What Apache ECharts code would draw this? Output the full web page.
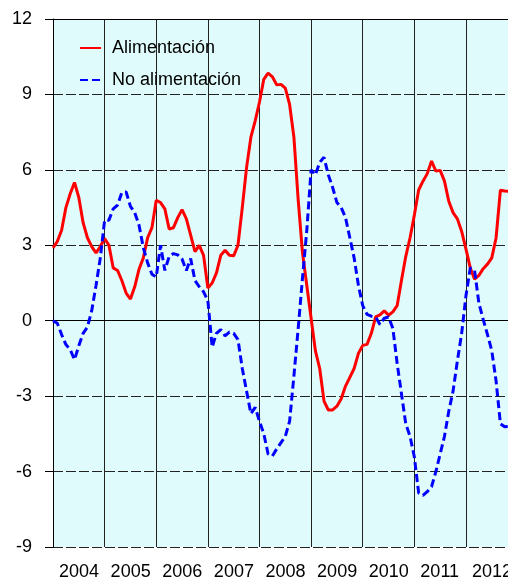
<!DOCTYPE html>
<html>
<head>
<meta charset="utf-8">
<script src="https://cdn.jsdelivr.net/npm/echarts@6/dist/echarts.min.js"></script>
<style>
html, body { margin: 0; padding: 0; background: #fff; }
#chart { width: 508px; height: 581px; }
</style>
</head>
<body>
<div id="chart"></div>
<script>
// datos mensuales desde enero 2004
var startYear = 2004;
var endYear = 2012.814; // el gráfico original está cortado en el borde derecho

var alimentacion = [
	2.9, 3.15, 3.6, 4.5, 5.05, 5.5, 4.9, 3.9, 3.3, 2.95, 2.7, 2.95,
	3.27, 3.0, 2.1, 2.0, 1.6, 1.1, 0.86, 1.35, 2.05, 2.5, 3.3, 3.7,
	4.79, 4.7, 4.45, 3.65, 3.7, 4.1, 4.42, 4.05, 3.4, 2.75, 3.0, 2.6,
	1.3, 1.5, 1.9, 2.6, 2.8, 2.6, 2.58, 3.0, 4.5, 6.1, 7.3, 7.95,
	8.7, 9.6, 9.85, 9.7, 9.38, 9.4, 9.25, 8.6, 7.3, 4.8, 2.7, 1.4,
	0.1, -1.2, -1.9, -3.2, -3.55, -3.55, -3.4, -3.1, -2.6, -2.25, -1.9, -1.3,
	-0.98, -0.94, -0.5, 0.15, 0.23, 0.39, 0.22, 0.35, 0.6, 1.6, 2.55, 3.3,
	4.2, 5.2, 5.55, 5.85, 6.35, 5.95, 5.98, 5.55, 4.75, 4.3, 4.05, 3.55,
	2.85, 2.1, 1.65, 1.8, 2.07, 2.25, 2.5, 3.3, 5.19, 5.16, 5.15
];

var noAlimentacion = [
	0.0, -0.1, -0.55, -0.95, -1.15, -1.55, -1.0, -0.5, -0.25, 0.4, 1.4, 2.5,
	4.0, 4.0, 4.45, 4.6, 5.1, 5.12, 4.55, 4.3, 3.8, 2.9, 2.3, 1.85,
	1.74, 3.0, 2.0, 2.55, 2.67, 2.62, 2.45, 2.0, 2.47, 1.6, 1.35, 1.15,
	0.8, -1.05, -0.5, -0.35, -0.6, -0.45, -0.5, -0.75, -1.9, -2.8, -3.7, -3.45,
	-4.0, -4.5, -5.3, -5.38, -5.1, -4.85, -4.6, -4.0, -2.2, -0.3, 1.7, 3.6,
	6.0, 5.8, 6.3, 6.5, 5.8, 5.3, 4.7, 4.5, 4.1, 3.3, 2.5, 1.4,
	0.6, 0.25, 0.18, 0.15, -0.15, 0.1, 0.15, -0.3, -1.7, -2.9, -4.1, -4.6,
	-5.42, -6.85, -6.95, -6.8, -6.6, -6.0, -5.3, -4.6, -3.6, -2.8, -1.6, -0.5,
	1.0, 2.1, 2.0, 0.7, 0.05, -0.55, -1.2, -2.4, -4.1, -4.22, -4.2
];

function toPoints(values){
	var pts = [];
	for (var i = 0; i < values.length; i++) {
		pts.push([startYear + i / 12, values[i]]);
	}
	return pts;
}

var fontFam = 'Liberation Sans, Arial, sans-serif';
var myChart = echarts.init(document.getElementById('chart'));

var option = {
	animation: false,
	backgroundColor: '#ffffff',
	grid: {
		left: 53,
		top: 19,
		bottom: 34,
		right: 0,
		outerBoundsMode: 'none',
		containLabel: false,
		show: true,
		backgroundColor: '#e0fbfb',
		borderWidth: 0
	},
	legend: {
		orient: 'vertical',
		left: 79,
		top: 39,
		padding: 0,
		itemWidth: 21,
		itemHeight: 12,
		itemGap: 14,
		itemStyle: { opacity: 0 },
		textStyle: { fontFamily: fontFam, fontSize: 18, color: '#000', padding: [0, 0, 0, 6] },
		data: ['Alimentación', 'No alimentación']
	},
	xAxis: [
		{
			type: 'value',
			min: startYear,
			max: endYear,
			interval: 1,
			axisLabel: {
				fontFamily: fontFam, fontSize: 18, color: '#000', margin: 16,
				align: 'left', padding: [0, 0, 0, 6],
				formatter: function (v) {
					return Math.abs(v - Math.round(v)) < 1e-6 ? String(Math.round(v)) : '';
				}
			},
			axisTick: { show: false },
			axisLine: { show: true, lineStyle: { color: '#000', width: 1 } },
			splitLine: { show: true, showMinLine: false, showMaxLine: false, lineStyle: { color: '#222', width: 1 } }
		},
		{
			// solo la línea superior del marco
			type: 'value',
			position: 'top',
			min: startYear,
			max: endYear,
			axisLabel: { show: false },
			axisTick: { show: false },
			splitLine: { show: false },
			axisLine: { show: true, lineStyle: { color: '#000', width: 1 } }
		}
	],
	yAxis: {
		type: 'value',
		min: -9,
		max: 12,
		interval: 3,
		axisLine: { show: true, lineStyle: { color: '#000', width: 1 } },
		axisTick: { show: true, inside: false, length: 8, lineStyle: { color: '#000' } },
		axisLabel: { fontFamily: fontFam, fontSize: 18, color: '#000', margin: 21 },
		splitLine: { show: true, lineStyle: { color: '#222', width: 1, type: [10, 3] } }
	},
	series: [
		{
			name: 'Alimentación',
			type: 'line',
			xAxisIndex: 0,
			symbol: 'none',
			lineStyle: { color: '#ff0000', width: 3 },
			itemStyle: { color: '#ff0000' },
			data: toPoints(alimentacion)
		},
		{
			name: 'No alimentación',
			type: 'line',
			xAxisIndex: 0,
			symbol: 'none',
			lineStyle: { color: '#0000ff', width: 3, type: [8, 4] },
			itemStyle: { color: '#0000ff' },
			data: toPoints(noAlimentacion)
		}
	]
};

myChart.setOption(option);
</script>
</body>
</html>
